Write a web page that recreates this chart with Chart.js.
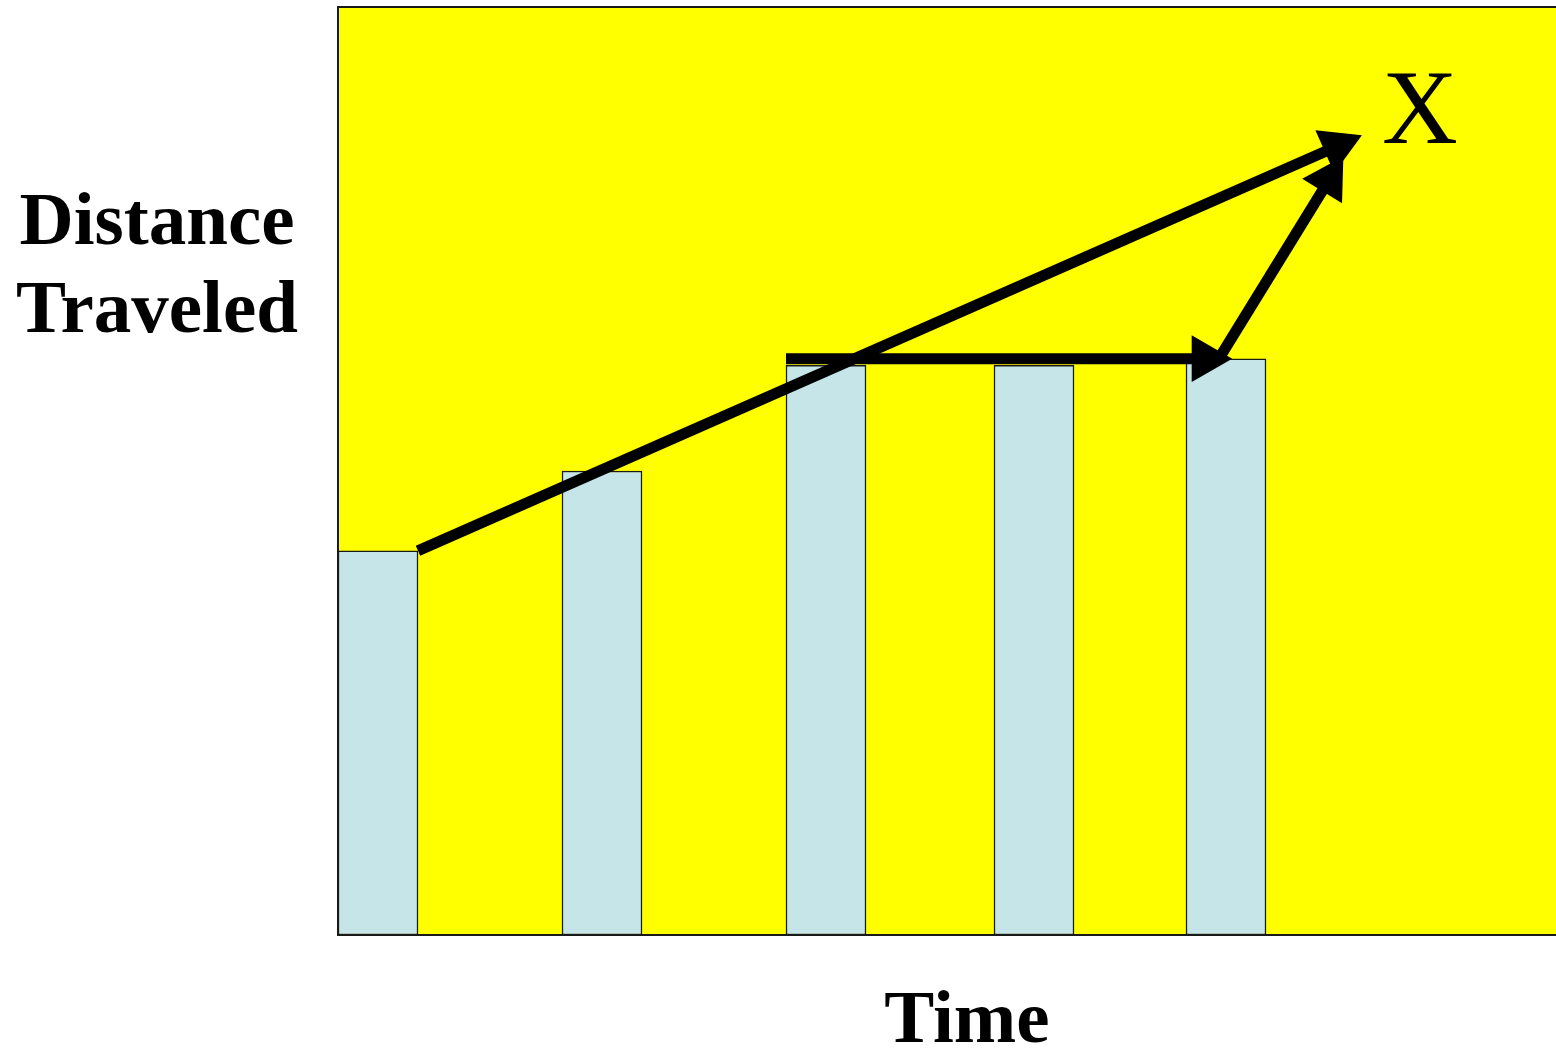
<!DOCTYPE html>
<html>
<head>
<meta charset="utf-8">
<script src="https://cdn.jsdelivr.net/npm/chart.js@4"></script>
<style>
  body { margin: 0; background: #fff; }
  #wrap { position: relative; width: 1556px; height: 1050px; }
  .lbl { position: absolute; font-family: "Liberation Serif", "Times New Roman", serif; color: #000; text-align: center; white-space: nowrap; }
  .big { font-size: 75px; font-weight: bold; line-height: 88px; }
</style>
</head>
<body>
<div id="wrap">
  <canvas id="chart" width="1556" height="1050"></canvas>
  <div class="lbl big" style="left:0; top:175px; width:314px;">Distance<br>Traveled</div>
  <div class="lbl big" style="left:867px; top:973px; width:200px;">Time</div>
  <div class="lbl" style="left:1370px; top:55px; width:100px; font-size:105px; line-height:105px;">X</div>
</div>
<script>
// bars: time position and distance travelled
const times = [5, 33, 61, 87, 111];
const distances = [41.4, 50, 61.4, 61.4, 62.1];

// arrows: start point, then arrowhead centre
const arrow1X = [10, 124.9];
const arrow1Y = [41.4, 85.0];
const arrow2X = [56, 108.4];
const arrow2Y = [62.1, 62.1];
const arrow3X = [110.25, 123.9];
const arrow3Y = [62.3, 81.4];

const toPoints = (xs, ys) => xs.map((x, i) => ({ x: x, y: ys[i] }));

// point the triangle along the segment that ends at it
function headRotation(ctx) {
  let i = ctx.dataIndex;
  if (i === 0) return 0;
  let pts = ctx.dataset.data;
  let sx = ctx.chart.scales.x;
  let sy = ctx.chart.scales.y;
  let dx = sx.getPixelForValue(pts[i].x) - sx.getPixelForValue(pts[i - 1].x);
  let dy = sy.getPixelForValue(pts[i].y) - sy.getPixelForValue(pts[i - 1].y);
  return Math.atan2(dx, -dy) * 180 / Math.PI;
}

function arrow(xs, ys) {
  return {
    type: "line",
    data: toPoints(xs, ys),
    borderColor: "#000",
    borderWidth: 11,
    borderCapStyle: "butt",
    pointStyle: "triangle",
    pointRadius: [0, 27],
    pointBorderWidth: 0,
    pointBackgroundColor: "#000",
    pointRotation: headRotation,
    tension: 0,
    clip: false,
    order: 1,
  };
}

const plotFrame = {
  id: "plotFrame",
  beforeDatasetsDraw(chart) {
    let { ctx, chartArea } = chart;
    ctx.save();
    ctx.fillStyle = "#FFFF00";
    ctx.fillRect(chartArea.left, chartArea.top, chartArea.width + 10, chartArea.height);
    ctx.restore();
  },
  afterDraw(chart) {
    let { ctx, chartArea } = chart;
    ctx.save();
    ctx.strokeStyle = "#1a1a1a";
    ctx.lineWidth = 2;
    ctx.beginPath();
    ctx.moveTo(chartArea.right + 10, chartArea.top);
    ctx.lineTo(chartArea.left, chartArea.top);
    ctx.lineTo(chartArea.left, chartArea.bottom);
    ctx.lineTo(chartArea.right + 10, chartArea.bottom);
    ctx.stroke();
    ctx.restore();
  },
};

new Chart(document.getElementById("chart"), {
  type: "bar",
  data: {
    datasets: [
      {
        type: "bar",
        data: toPoints(times, distances),
        backgroundColor: "#C6E5E8",
        borderColor: "#1a1a1a",
        borderWidth: 1.5,
        borderSkipped: false,
        barThickness: 80,
        order: 2,
      },
      arrow(arrow1X, arrow1Y),
      arrow(arrow2X, arrow2Y),
      arrow(arrow3X, arrow3Y),
    ],
  },
  options: {
    responsive: false,
    animation: false,
    events: [],
    layout: { autoPadding: false, padding: { left: 338, top: 7, right: 0, bottom: 115 } },
    plugins: { legend: { display: false }, tooltip: { enabled: false } },
    scales: {
      x: { type: "linear", min: 0, max: 152.25, offset: false, display: false },
      y: { type: "linear", min: 0, max: 100, display: false },
    },
  },
  plugins: [plotFrame],
});
</script>
</body>
</html>
